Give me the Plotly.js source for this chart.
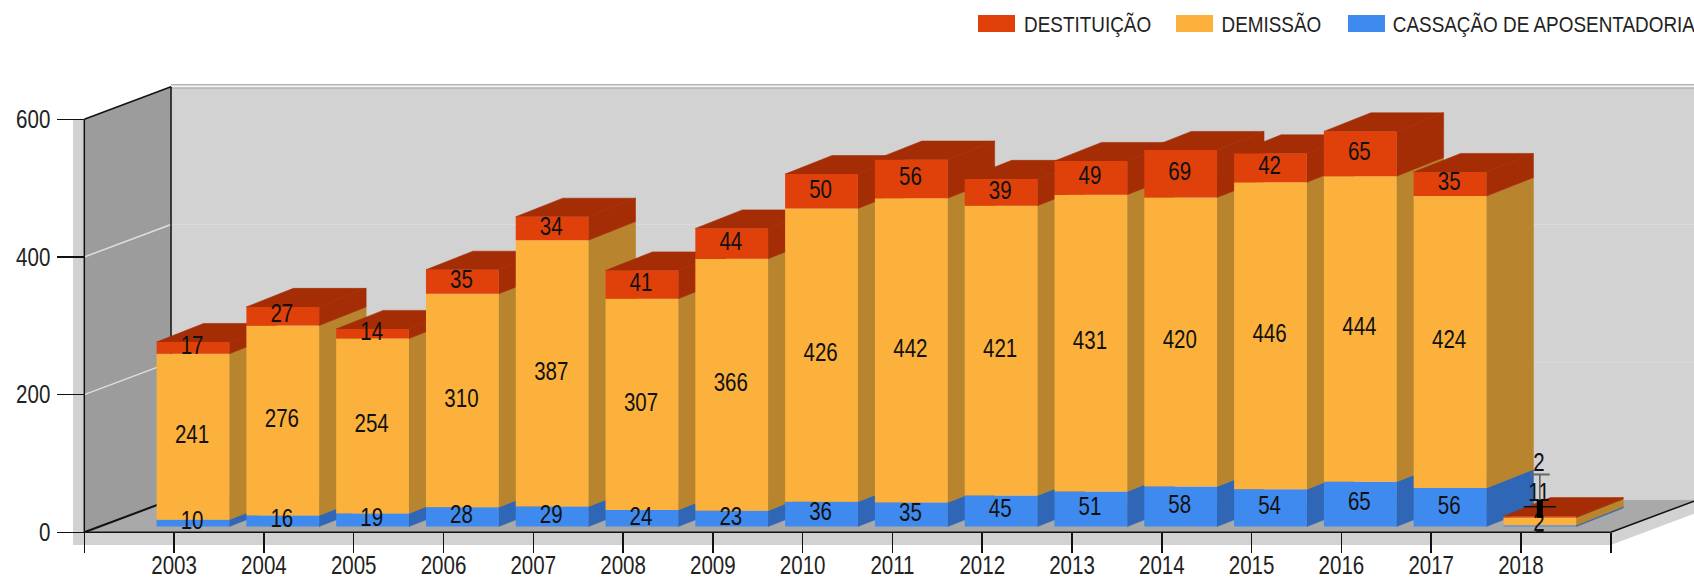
<!DOCTYPE html>
<html><head><meta charset="utf-8">
<script src="https://cdn.plot.ly/plotly-3.0.1.min.js"></script>
<style>html,body{margin:0;padding:0;background:#fff;overflow:hidden}</style>
</head><body><div id="chart" style="width:1694px;height:579px"></div>
<script>
const years = [2003,2004,2005,2006,2007,2008,2009,2010,2011,2012,2013,2014,2015,2016,2017,2018];
const cassacao = [10,16,19,28,29,24,23,36,35,45,51,58,54,65,56,2];
const demissao = [241,276,254,310,387,307,366,426,442,421,431,420,446,444,424,11];
const destituicao = [17,27,14,35,34,41,44,50,56,39,49,69,42,65,35,2];
const seriesNames = ['CASSAÇÃO DE APOSENTADORIA','DEMISSÃO','DESTITUIÇÃO'];
const seriesValues = [cassacao,demissao,destituicao];
const frontColors = ['#3F8AEF','#FBB13C','#E0400A'];
const sideColors = ['#2F66B5','#B8852E','#A52D05'];
const yTicks = [0,200,400,600];

const FONT = '"Liberation Sans",Arial,sans-serif';
const TEXT_SQUEEZE = 0.82, LEGEND_SQUEEZE = 0.84;
const W=1694,H=579,mL=73,mR=0,mT=80,mB=34;
const pw=W-mL-mR, ph=H-mT-mB;
const xMin=2001.874,xMax=2019.927,yMin=-18.45,yMax=657.1;
const xOrigin=2002, xEnd=2019;
const wallDX=0.9656, wallDY=47.2;
const barOff=0.21, barW=0.81, barDX=0.5234, barDY=27, barLift=8.4;
const path=pts=>'M'+pts.map(p=>p[0]+','+p[1]).join('L')+'Z';
const poly=(pts,fill,layer,seam)=>({type:'path',xref:'x',yref:'y',path:path(pts),fillcolor:fill,line:seam?{color:fill,width:seam}:{width:0},layer:layer||'between'});
const seg=(x0,y0,x1,y1,color,width,layer)=>({type:'line',xref:'x',yref:'y',x0,y0,x1,y1,line:{color,width},layer:layer||'between'});

const shapes=[];
const wallTop=600+wallDY, backX=xOrigin+wallDX;
const rightRise=(xMax-xEnd)/wallDX*wallDY;
// extruded light band
shapes.push(poly([[xMin,0],[xMin,600],[xOrigin,600],[xOrigin,0]],'#D2D2D2'));
shapes.push(poly([[xMin,yMin],[xEnd,yMin],[xMax,yMin+rightRise],[xMax,rightRise],[xEnd,0],[xMin,0]],'#D2D2D2'));
// back wall, left wall, floor
shapes.push(poly([[backX,wallDY],[xMax,wallDY],[xMax,wallTop],[backX,wallTop]],'#D2D2D2'));
shapes.push(poly([[xOrigin,0],[backX,wallDY],[backX,wallTop],[xOrigin,600]],'#9C9C9C'));
shapes.push(poly([[xOrigin,0],[xEnd,0],[xMax,rightRise],[xMax,wallDY],[backX,wallDY]],'#A9A9A9'));
// grid lines
[200,400].forEach(v=>{
  shapes.push(seg(xOrigin,v,backX,v+wallDY,'#DEDEDE',1.5));
  shapes.push(seg(backX,v+wallDY,xMax,v+wallDY,'#DCDCDC',1));
});
shapes.push(seg(backX,wallTop+3,xMax,wallTop+3,'#B4B4B4',1.5));
shapes.push(seg(backX,wallTop-2,xMax,wallTop-2,'#B8B8B8',1.5));
// frame
shapes.push(seg(xOrigin,600,backX,wallTop,'#111',1.5));
shapes.push(seg(xOrigin,0,backX,wallDY,'#111',2));
shapes.push(seg(backX,wallDY,backX,wallTop,'#111',1.5));
shapes.push(seg(xEnd,0,xMax,rightRise,'#111',1.5));
shapes.push(seg(xOrigin,0,xOrigin,600,'#111',1.5));

// 3-D faces, painted left to right
const stackBase=seriesValues.map(()=>[]);
years.forEach((yr,i)=>{
  let b=barLift;
  const x0=yr+barOff-barW/2,x1=yr+barOff+barW/2;
  seriesValues.forEach((vals,s)=>{
    const t=b+vals[i];
    stackBase[s][i]=b;
    shapes.push(poly([[x1,b],[x1,t],[x1+barDX,t+barDY],[x1+barDX,b+barDY]],sideColors[s],'between',0.6));
    b=t;
  });
  shapes.push(poly([[x0,b],[x1,b],[x1+barDX,b+barDY],[x0+barDX,b+barDY]],sideColors[2],'between',0.6));
});
// axis line over the floor
shapes.push(seg(xOrigin,0,xEnd,0,'#111',1.5,'above'));

// leader lines of the 2018 labels
const leaderX=years[15]+barOff;
shapes.push(seg(leaderX,84,leaderX,25,'#555',1.5,'above'));
shapes.push(seg(leaderX-0.11,84,leaderX+0.11,84,'#666',2,'above'));
shapes.push(seg(leaderX-0.18,37,leaderX+0.18,37,'#111',1.5,'above'));
shapes.push(seg(leaderX,47,leaderX,21,'#000',6,'above'));
shapes.push(seg(leaderX-0.04,2,leaderX+0.04,2,'#111',2,'above'));

const traces=seriesValues.map((vals,s)=>({
  type:'bar',name:seriesNames[s],x:years.map(y=>y+barOff),y:vals,base:stackBase[s],
  width:barW,marker:{color:frontColors[s],line:{width:0}},showlegend:false,hoverinfo:'skip'
}));
// value labels
const nudge2018=[2,39,76]; // labels of the tiny last bar are pulled off the bar
seriesValues.forEach((vals,s)=>{
  traces.push({type:'scatter',mode:'text',showlegend:false,hoverinfo:'skip',
    x:years.map(y=>y+barOff-0.01),
    y:vals.map((v,i)=>stackBase[s][i]+v/2+(i===15?nudge2018[s]:0)),
    text:vals.map(String),textposition:'middle center',
    textfont:{family:FONT,size:25,color:'#111'},cliponaxis:false});
});

// legend
const toX=px=>(px-mL)/pw, toY=py=>(H-mB-py)/ph;
const legendItems=[[2,978,1087.5],[1,1176,1271],[0,1348,1544]];
const annotations=[];
legendItems.forEach(([s,sx,cx])=>{
  shapes.push({type:'rect',xref:'paper',yref:'paper',x0:toX(sx),x1:toX(sx+37),y0:toY(32),y1:toY(15),
    fillcolor:frontColors[s],line:{width:0},layer:'above'});
  annotations.push({xref:'paper',yref:'paper',x:toX(cx),y:toY(24),xanchor:'center',yanchor:'middle',showarrow:false,
    text:seriesNames[s],font:{family:FONT,size:22.5,color:'#222'}});
});

const tickX=[xOrigin].concat(years,[xEnd]);
const layout={
  width:W,height:H,margin:{l:mL,r:mR,t:mT,b:mB,pad:0},paper_bgcolor:'#fff',plot_bgcolor:'#fff',
  barmode:'overlay',showlegend:false,shapes,annotations,
  xaxis:{type:'linear',range:[xMin,xMax],anchor:'free',position:(-yMin)/(yMax-yMin),showgrid:false,zeroline:false,showline:false,
    tickmode:'array',tickvals:tickX,ticktext:tickX.map(v=>years.includes(v)?String(v):''),
    ticks:'outside',ticklen:20,tickwidth:1.5,tickcolor:'#111',tickangle:0,ticklabelstandoff:-9,
    tickfont:{family:FONT,size:25,color:'#222'}},
  yaxis:{type:'linear',range:[yMin,yMax],anchor:'free',position:(xOrigin-xMin)/(xMax-xMin),showgrid:false,zeroline:false,showline:false,
    tickmode:'array',tickvals:yTicks,ticktext:yTicks.map(String),
    ticks:'outside',ticklen:27,tickwidth:1.5,tickcolor:'#111',ticklabelstandoff:2,
    tickfont:{family:FONT,size:25,color:'#222'}}
};
Plotly.newPlot('chart',traces,layout,{displayModeBar:false,staticPlot:true}).then(gd=>{
  gd.querySelectorAll('svg text').forEach(el=>{
    const len=el.getComputedTextLength();
    const k=el.closest('.annotation')?LEGEND_SQUEEZE:TEXT_SQUEEZE;
    if(len>0){el.setAttribute('textLength',len*k);el.setAttribute('lengthAdjust','spacingAndGlyphs');}
  });
});
</script></body></html>
